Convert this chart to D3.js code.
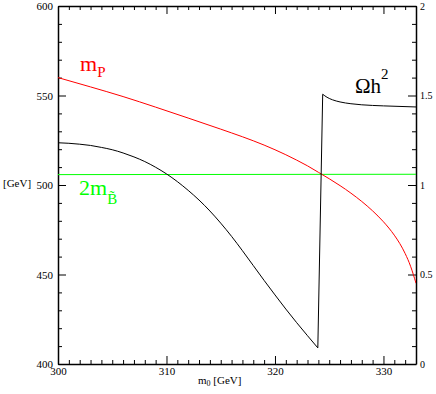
<!DOCTYPE html>
<html><head><meta charset="utf-8">
<script src="https://cdn.jsdelivr.net/npm/d3@7"></script>
<style>
body{margin:0;background:#fff;}
svg{display:block;}
svg text{font-family:"Liberation Serif","Times New Roman",serif;}
</style></head>
<body><svg id="c" width="436" height="394"></svg>
<script>
// ---- data ----
const mPx = [300, 303, 306, 309, 312, 315, 316, 317, 318, 319, 320, 321, 322, 323, 324, 325, 326, 327, 328, 329, 330, 330.5, 331, 331.5, 332, 332.5, 333];
const mPy = [560, 554.8, 549.4, 543.5, 537.4, 531.2, 529.1, 526.95, 524.7, 522.3, 519.7, 516.9, 513.9, 510.7, 507.1, 503.5, 499.65, 495.45, 490.8, 485.55, 479.45, 475.95, 471.97, 467.35, 461.72, 454.6, 445.1];
const mBx = [300, 333];
const mBy = [505.8, 506.0];
const omX = [300, 301, 302, 303, 304, 305, 306, 307, 308, 309, 310, 311, 312, 313, 314, 315, 316, 317, 318, 319, 320, 321, 322, 323, 323.95, 324.4, 324.8, 325.3, 326, 327, 328, 330, 333];
const omY = [1.236, 1.233, 1.228, 1.221, 1.210, 1.197, 1.179, 1.157, 1.131, 1.099, 1.062, 1.019, 0.970, 0.916, 0.855, 0.787, 0.713, 0.633, 0.550, 0.467, 0.386, 0.307, 0.231, 0.158, 0.09, 1.507, 1.49, 1.476, 1.464, 1.454, 1.448, 1.442, 1.436];
const xTicks = [300, 310, 320, 330];
const yLTicks = [400, 450, 500, 550, 600];
const yRTicks = [0, 0.5, 1, 1.5, 2];

// ---- layout ----
const svg = d3.select("#c");
const L = 58, R = 416, T = 6, B = 364;
const x = d3.scaleLinear().domain([300, 333]).range([L, R]);
const yL = d3.scaleLinear().domain([400, 600]).range([B, T]);
const yR = d3.scaleLinear().domain([0, 2]).range([B, T]);

const xMinor = d3.range(300, 334, 1).filter(v => v % 10 !== 0);
const yLMinor = d3.range(400, 601, 10).filter(v => v % 50 !== 0);
const yRMinor = d3.range(0, 21, 1).map(v => v / 10).filter(v => Math.round(v * 10) % 5 !== 0);

const SERIF = '"Liberation Serif","Times New Roman",serif';
function style(g, fs) {
  g.attr("font-family", SERIF).attr("font-size", fs);
  g.selectAll("path.domain").attr("stroke", "#000").attr("stroke-width", 1.5);
  g.selectAll(".tick line").attr("stroke", "#000").attr("stroke-width", 1);
  g.selectAll("text").attr("fill", "#000").style("font-family", SERIF).style("font-size", fs + "px");
}

// minor ticks
svg.append("g").attr("transform", `translate(0,${B})`)
  .call(d3.axisBottom(x).tickValues(xMinor).tickSize(-4).tickSizeOuter(0).tickFormat(""))
  .call(g => { style(g, 11); g.select(".domain").remove(); });
svg.append("g").attr("transform", `translate(0,${T})`)
  .call(d3.axisTop(x).tickValues(xMinor).tickSize(-4).tickSizeOuter(0).tickFormat(""))
  .call(g => { style(g, 11); g.select(".domain").remove(); });
svg.append("g").attr("transform", `translate(${L},0)`)
  .call(d3.axisLeft(yL).tickValues(yLMinor).tickSize(-4).tickSizeOuter(0).tickFormat(""))
  .call(g => { style(g, 11); g.select(".domain").remove(); });
svg.append("g").attr("transform", `translate(${R},0)`)
  .call(d3.axisRight(yR).tickValues(yRMinor).tickSize(-4).tickSizeOuter(0).tickFormat(""))
  .call(g => { style(g, 11); g.select(".domain").remove(); });

// major axes
svg.append("g").attr("transform", `translate(0,${B})`)
  .call(d3.axisBottom(x).tickValues(xTicks).tickSize(-8).tickSizeOuter(0).tickPadding(3).tickFormat(d => String(d)))
  .call(g => style(g, 11));
svg.append("g").attr("transform", `translate(0,${T})`)
  .call(d3.axisTop(x).tickValues(xTicks).tickSize(-8).tickSizeOuter(0).tickFormat(""))
  .call(g => style(g, 11));
svg.append("g").attr("transform", `translate(${L},0)`)
  .call(d3.axisLeft(yL).tickValues(yLTicks).tickSize(-8).tickSizeOuter(0).tickPadding(5).tickFormat(d => String(d)))
  .call(g => style(g, 11));
svg.append("g").attr("transform", `translate(${R},0)`)
  .call(d3.axisRight(yR).tickValues(yRTicks).tickSize(-8).tickSizeOuter(0).tickPadding(4).tickFormat(d => String(d)))
  .call(g => style(g, 10));

// clip
svg.append("clipPath").attr("id", "clip").append("rect")
  .attr("x", L).attr("y", T).attr("width", R - L).attr("height", B - T);
const plot = svg.append("g").attr("clip-path", "url(#clip)");

const lineL = d3.line().x(d => x(d[0])).y(d => yL(d[1])).curve(d3.curveMonotoneX);
const lineR = d3.line().x(d => x(d[0])).y(d => yR(d[1])).curve(d3.curveMonotoneX);

plot.append("path").datum(mBx.map((v, i) => [v, mBy[i]]))
  .attr("d", lineL).attr("fill", "none").attr("stroke", "#00ff00").attr("stroke-width", 1);
plot.append("path").datum(mPx.map((v, i) => [v, mPy[i]]))
  .attr("d", lineL).attr("fill", "none").attr("stroke", "#ff0000").attr("stroke-width", 1);

// black curve: smooth branches, straight jump between them
const om = omX.map((v, i) => [v, omY[i]]);
const jump = d3.minIndex(omY);
[om.slice(0, jump + 1), om.slice(jump + 1)].forEach(seg =>
  plot.append("path").datum(seg).attr("d", lineR).attr("fill", "none").attr("stroke", "#000").attr("stroke-width", 1));
plot.append("path").datum(om.slice(jump, jump + 2))
  .attr("d", d3.line().x(d => x(d[0])).y(d => yR(d[1])))
  .attr("fill", "none").attr("stroke", "#000").attr("stroke-width", 1);

// labels
const t1 = svg.append("text").attr("x", 80).attr("y", 71).attr("fill", "#ff0000").style("font-size", "22px");
t1.append("tspan").text("m");
t1.append("tspan").attr("dy", 6).style("font-size", "15px").text("P");

const t2 = svg.append("text").attr("x", 355).attr("y", 93).attr("fill", "#000").style("font-size", "21px");
t2.append("tspan").text("Ωh");
t2.append("tspan").attr("dy", -14).style("font-size", "15px").text("2");

const t3 = svg.append("text").attr("x", 79).attr("y", 195).attr("fill", "#00ff00").style("font-size", "22px");
t3.append("tspan").text("2m");
t3.append("tspan").attr("dy", 9).style("font-size", "15px").text("B\u0303");

svg.append("text").attr("x", 3).attr("y", 187).style("font-size", "11px").attr("fill", "#000").text("[GeV]");

const t4 = svg.append("text").attr("x", 198).attr("y", 384).style("font-size", "11px").attr("fill", "#000");
t4.append("tspan").text("m");
t4.append("tspan").attr("dy", 2).style("font-size", "8px").text("0");
t4.append("tspan").attr("dy", -2).text(" [GeV]");
</script></body></html>
